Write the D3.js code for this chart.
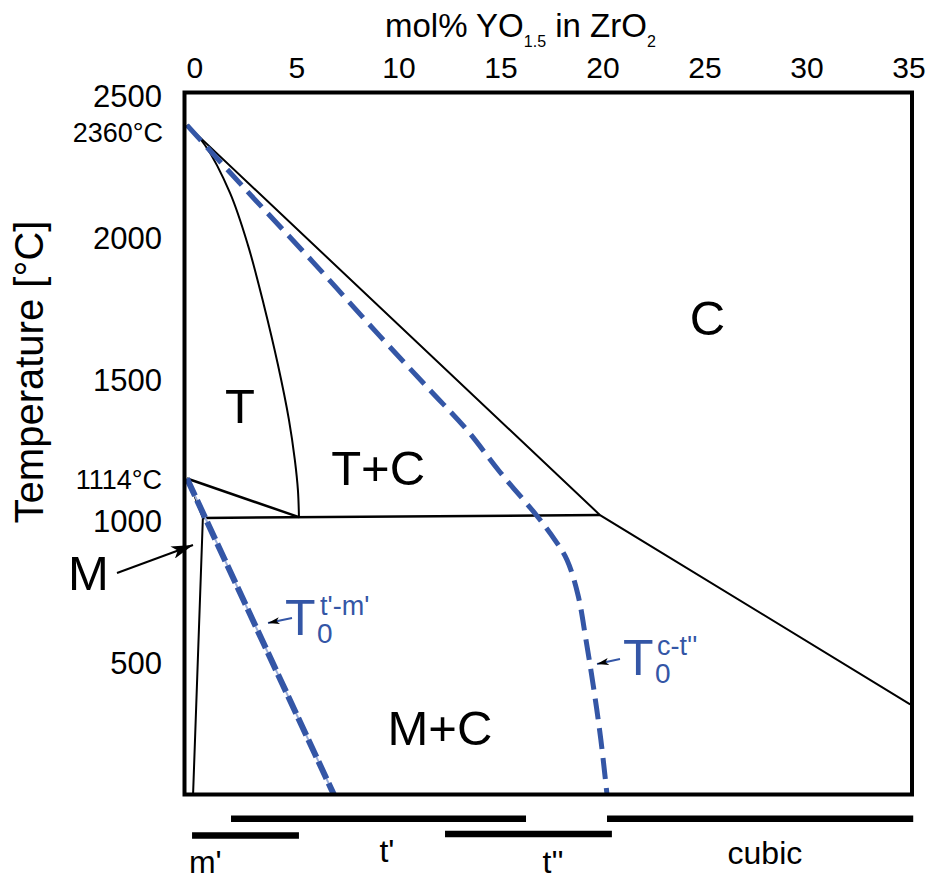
<!DOCTYPE html>
<html>
<head>
<meta charset="utf-8">
<script src="https://cdn.jsdelivr.net/npm/d3@7"></script>
<style>
  body { margin: 0; background: #fff; }
  svg { display: block; font-family: "Liberation Sans", Arial, sans-serif; }
</style>
</head>
<body>
<div id="chart"></div>
<script>

// axis ticks
var xTicks = [0, 5, 10, 15, 20, 25, 30, 35];
var yTicks = [500, 1000, 1500, 2000, 2500];

// phase boundaries, mol% YO1.5 vs temperature in °C
var cBoundaryX = [0, 20.25, 35.45];
var cBoundaryT = [2360, 985, 318];

var tBoundaryX = [0, 0.88, 2.11, 2.99, 3.77, 4.46, 5.0, 5.29, 5.44, 5.49];
var tBoundaryT = [2360, 2290, 2121, 1937, 1726, 1515, 1321, 1179, 1073, 978];

var eutectoidX = [0.78, 20.25];
var eutectoidT = [975, 985];

var tmX = [0, 5.49];
var tmT = [1114, 978];

var mBoundaryX = [0, 0.39, 0.78, 0.3];
var mBoundaryT = [1114, 1049, 975, 0];

// T0 lines
var t0ctX = [0, 2.94, 6.18, 9.46, 11.91, 13.73, 15.34, 17.16, 18.04, 18.63, 19.17, 19.56, 19.95, 20.29, 20.59];
var t0ctT = [2360, 2128, 1877, 1616, 1426, 1285, 1137, 982, 897, 827, 703, 545, 368, 192, 0];

var t0tmX = [0, 7.2];
var t0tmT = [1114, 0];

// phase ranges under the diagram
var barNames = ["m'", "t'", "t''", "cubic"];
var barStart = [0.25, 2.16, 12.65, 20.59];
var barEnd = [5.49, 16.62, 20.83, 35.6];

var blue = "#3456a6";

function pts(xs, ts) {
  return xs.map(function(v, i) { return [v, ts[i]]; });
}

function drawChart() {

  var svgWidth = 935;
  var svgHeight = 881;

  var svg = d3.select("#chart")
    .append("svg")
    .attr("width", svgWidth)
    .attr("height", svgHeight);

  var xScale = d3.scaleLinear().domain([-0.12, 35.54]).range([184.5, 912]);
  var yScale = d3.scaleLinear().domain([0, 2475]).range([794.5, 92.5]);

  var defs = svg.append("defs");
  defs.append("marker")
    .attr("id", "headBig")
    .attr("markerUnits", "userSpaceOnUse")
    .attr("viewBox", "0 0 20 12")
    .attr("refX", 20).attr("refY", 6)
    .attr("markerWidth", 22).attr("markerHeight", 13)
    .attr("orient", "auto")
    .append("path").attr("d", "M0,0 L20,6 L0,12 L5,6 Z").attr("fill", "#000");
  defs.append("marker")
    .attr("id", "headSmall")
    .attr("markerUnits", "userSpaceOnUse")
    .attr("viewBox", "0 0 20 12")
    .attr("refX", 20).attr("refY", 6)
    .attr("markerWidth", 12).attr("markerHeight", 7)
    .attr("orient", "auto")
    .append("path").attr("d", "M0,0 L20,6 L0,12 L5,6 Z").attr("fill", "#000");

  var line = d3.line()
    .x(d => xScale(d[0]))
    .y(d => yScale(d[1]));

  var smooth = d3.line()
    .curve(d3.curveCatmullRom.alpha(0.5))
    .x(d => xScale(d[0]))
    .y(d => yScale(d[1]));

  var plot = svg.append("g");

  // black phase boundaries
  plot.append("path").attr("d", line(pts(cBoundaryX, cBoundaryT)))
    .attr("fill", "none").attr("stroke", "#000").attr("stroke-width", 2);
  plot.append("path").attr("d", smooth(pts(tBoundaryX, tBoundaryT)))
    .attr("fill", "none").attr("stroke", "#000").attr("stroke-width", 2);
  plot.append("path").attr("d", line(pts(eutectoidX, eutectoidT)))
    .attr("fill", "none").attr("stroke", "#000").attr("stroke-width", 2.5);
  plot.append("path").attr("d", line(pts(tmX, tmT)))
    .attr("fill", "none").attr("stroke", "#000").attr("stroke-width", 2.5);
  plot.append("path").attr("d", line(pts(mBoundaryX, mBoundaryT)))
    .attr("fill", "none").attr("stroke", "#000").attr("stroke-width", 2);

  // T0 lines
  plot.append("path").attr("d", smooth(pts(t0ctX, t0ctT)))
    .attr("fill", "none").attr("stroke", blue).attr("stroke-width", 5)
    .attr("stroke-dasharray", "21,9");
  plot.append("path").attr("d", line(pts(t0tmX, t0tmT)))
    .attr("fill", "none").attr("stroke", "#9fb1dc").attr("stroke-width", 2);
  plot.append("path").attr("d", line(pts(t0tmX, t0tmT)))
    .attr("fill", "none").attr("stroke", blue).attr("stroke-width", 6)
    .attr("stroke-dasharray", "19,5");

  // frame
  svg.append("rect")
    .attr("x", xScale(-0.12)).attr("y", yScale(2475))
    .attr("width", xScale(35.54) - xScale(-0.12))
    .attr("height", yScale(0) - yScale(2475))
    .attr("fill", "none").attr("stroke", "#000").attr("stroke-width", 4);

  // axes
  var xAxis = svg.append("g")
    .attr("transform", `translate(0, ${yScale(2475)})`)
    .call(d3.axisTop(xScale).tickValues(xTicks).tickSize(0).tickPadding(14.5));
  xAxis.select(".domain").remove();
  xAxis.selectAll("text")
    .attr("dx", 7.5)
    .attr("font-size", 30)
    .attr("font-family", "Liberation Sans, Arial, sans-serif")
    .attr("fill", "#000");

  var yAxis = svg.append("g")
    .attr("transform", `translate(${xScale(-0.12)}, 0)`)
    .call(d3.axisLeft(yScale).tickValues(yTicks).tickFormat(d3.format("d"))
      .tickSize(0).tickPadding(22.5));
  yAxis.select(".domain").remove();
  yAxis.selectAll("text")
    .attr("dy", 21)
    .attr("font-size", 31)
    .attr("font-family", "Liberation Sans, Arial, sans-serif")
    .attr("fill", "#000");

  // special temperatures
  svg.append("text").text("2360°C")
    .attr("x", xScale(-0.12) - 21.5).attr("y", yScale(2360) + 17)
    .attr("text-anchor", "end").attr("font-size", 27);
  svg.append("text").text("1114°C")
    .attr("x", xScale(-0.12) - 22.5).attr("y", yScale(1114) + 10)
    .attr("text-anchor", "end").attr("font-size", 27);

  // axis titles
  var title = svg.append("text")
    .attr("x", 385).attr("y", 37)
    .attr("font-size", 33);
  title.append("tspan").text("mol% YO");
  title.append("tspan").text("1.5").attr("font-size", 16).attr("dy", 10);
  title.append("tspan").text(" in ZrO").attr("dy", -10);
  title.append("tspan").text("2").attr("font-size", 16).attr("dy", 10);

  svg.append("text").text("Temperature [°C]")
    .attr("transform", "translate(43, 372) rotate(-90)")
    .attr("text-anchor", "middle")
    .attr("font-size", 40);

  // region labels
  var regions = [
    {name: "T", x: 2.6, t: 1311},
    {name: "T+C", x: 9.37, t: 1091},
    {name: "C", x: 25.51, t: 1620},
    {name: "M+C", x: 12.4, t: 174},
    {name: "M", x: -4.83, t: 720}
  ];
  svg.selectAll(".region")
    .data(regions)
    .enter()
    .append("text")
    .attr("class", "region")
    .text(d => d.name)
    .attr("x", d => xScale(d.x))
    .attr("y", d => yScale(d.t))
    .attr("text-anchor", "middle")
    .attr("font-size", 49);

  // M arrow
  svg.append("line")
    .attr("x1", 117).attr("y1", 573).attr("x2", 193).attr("y2", 545)
    .attr("stroke", "#000").attr("stroke-width", 2)
    .attr("marker-end", "url(#headBig)");

  // T0 labels
  function t0Label(x, y, sup, sx) {
    var g = svg.append("g").attr("fill", blue);
    g.append("text").text("T").attr("x", x).attr("y", y).attr("font-size", 50);
    g.append("text").text("0").attr("x", x + 32).attr("y", y + 8).attr("font-size", 28);
    g.append("text").text(sup).attr("x", x + sx).attr("y", y - 20).attr("font-size", 27);
  }
  t0Label(285, 635, "t'-m'", 35);
  t0Label(623, 675, "c-t''", 34);

  svg.append("line")
    .attr("x1", 292).attr("y1", 618).attr("x2", 268).attr("y2", 623)
    .attr("stroke", blue).attr("stroke-width", 1.8)
    .attr("marker-end", "url(#headSmall)");
  svg.append("line")
    .attr("x1", 620).attr("y1", 659).attr("x2", 597).attr("y2", 664)
    .attr("stroke", blue).attr("stroke-width", 1.8)
    .attr("marker-end", "url(#headSmall)");

  // phase ranges
  var barRowY = [835.5, 818.7, 834, 818.7];
  var barLabelX = [0.9, 9.8, 17.95, 28.33];
  var barLabelY = [873, 862, 873, 864];
  svg.selectAll(".bar")
    .data(barNames)
    .enter()
    .append("line")
    .attr("class", "bar")
    .attr("x1", (d, i) => xScale(barStart[i]))
    .attr("x2", (d, i) => xScale(barEnd[i]))
    .attr("y1", (d, i) => barRowY[i])
    .attr("y2", (d, i) => barRowY[i])
    .attr("stroke", "#000").attr("stroke-width", 6.5);
  svg.selectAll(".barLabel")
    .data(barNames)
    .enter()
    .append("text")
    .attr("class", "barLabel")
    .text(d => d)
    .attr("x", (d, i) => xScale(barLabelX[i]))
    .attr("y", (d, i) => barLabelY[i])
    .attr("text-anchor", "middle")
    .attr("font-size", 32);
}

document.addEventListener('DOMContentLoaded', function(){
  drawChart();
});
</script>
</body>
</html>
